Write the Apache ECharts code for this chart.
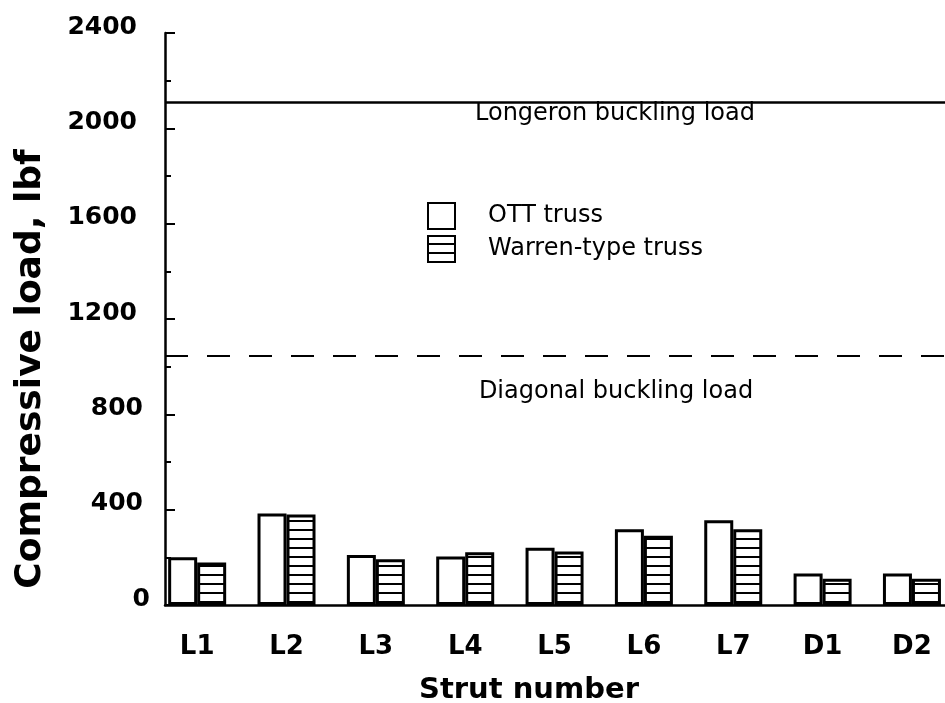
<!DOCTYPE html>
<html>
<head>
<meta charset="utf-8">
<script src="https://cdn.jsdelivr.net/npm/echarts@6/dist/echarts.min.js"></script>
<style>
  html, body { margin: 0; padding: 0; background: #fff; }
  #chart { width: 945px; height: 703px; }
</style>
</head>
<body>
<div id="chart"></div>
<script>
// Strut categories and measured compressive loads (lbf)
const struts = ['L1', 'L2', 'L3', 'L4', 'L5', 'L6', 'L7', 'D1', 'D2'];
const ottTruss = [200, 384, 210, 203, 240, 318, 356, 132, 132];
const warrenTruss = [178, 380, 192, 221, 224, 291, 318, 110, 110];

// Reference buckling loads (lbf)
const longeronBuckling = 2110;
const diagonalBuckling = 1045;

// Y-axis tick values
const yTicks = [0, 400, 800, 1200, 1600, 2000, 2400];

const FONT = 'DejaVu Sans';

// Horizontal hatching used for the Warren-type truss bars
function makeHatch() {
  const c = document.createElement('canvas');
  c.width = 8;
  c.height = 9;
  const g = c.getContext('2d');
  g.fillStyle = '#fff';
  g.fillRect(0, 0, 8, 9);
  g.fillStyle = '#000';
  g.fillRect(0, 7, 8, 2);
  return c;
}
const hatch = { image: makeHatch(), repeat: 'repeat' };

const chart = echarts.init(document.getElementById('chart'), null, { renderer: 'canvas' });

function yLabel(v) {
  const s = String(v);
  const key = s.length >= 4 ? 'w4' : (s.length === 3 ? 'w3' : 'w1');
  return '{' + key + '|' + s + '}';
}
const yRichBase = { fontFamily: FONT, fontWeight: 'bold', fontSize: 25, color: '#000' };

chart.setOption({
  animation: false,
  backgroundColor: '#fff',
  grid: { left: 165, right: 0, top: 33, bottom: 98, outerBoundsMode: 'none', containLabel: false },
  legend: {
    orient: 'vertical',
    left: 422,
    top: 197,
    icon: 'rect',
    itemWidth: 27,
    itemHeight: 26,
    itemGap: 5,
    textStyle: {
      fontFamily: FONT,
      fontSize: 24,
      color: '#000',
      padding: [0, 0, 9, 28]
    },
    data: ['OTT truss', 'Warren-type truss']
  },
  xAxis: {
    type: 'value',
    min: -0.36,
    max: 8.37,
    name: 'Strut number',
    nameLocation: 'middle',
    nameGap: 71,
    nameTextStyle: {
      fontFamily: FONT,
      fontWeight: 'bold',
      fontSize: 29,
      color: '#000',
      padding: [0, 52, 0, 0]
    },
    axisLine: { show: true, onZero: false, lineStyle: { color: '#000', width: 2.5 } },
    axisTick: { show: false },
    splitLine: { show: false },
    axisLabel: {
      customValues: struts.map((s, i) => i),
      formatter: v => struts[Math.round(v)] ?? '',
      margin: 29,
      fontFamily: FONT,
      fontWeight: 'bold',
      fontSize: 26,
      color: '#000'
    }
  },
  yAxis: {
    type: 'value',
    min: 0,
    max: 2400,
    interval: 400,
    name: 'Compressive load, lbf',
    nameLocation: 'middle',
    nameRotate: 90,
    nameGap: 116,
    nameTextStyle: {
      fontFamily: FONT,
      fontWeight: 'bold',
      fontSize: 36,
      color: '#000',
      padding: [0, 100, 0, 0]
    },
    axisLine: { show: true, onZero: false, lineStyle: { color: '#000', width: 2.5 } },
    axisTick: { show: true, inside: true, length: 10, lineStyle: { color: '#000', width: 2 } },
    minorTick: { show: true, splitNumber: 2, length: 6, lineStyle: { color: '#000', width: 2 } },
    splitLine: { show: false },
    axisLabel: {
      customValues: yTicks,
      margin: 15,
      formatter: yLabel,
      rich: {
        w4: Object.assign({ padding: [0, 13, 12, 0] }, yRichBase),
        w3: Object.assign({ padding: [0, 7, 12, 0] }, yRichBase),
        w1: Object.assign({ padding: [0, 0, 12, 0] }, yRichBase)
      }
    }
  },
  series: [
    {
      name: 'OTT truss',
      type: 'bar',
      barWidth: 29,
      barGap: '0%',
      data: ottTruss.map((v, i) => [i, v]),
      itemStyle: { color: '#fff', borderColor: '#000', borderWidth: 3 },
      markLine: {
        silent: true,
        symbol: ['none', 'none'],
        data: [
          {
            yAxis: longeronBuckling,
            lineStyle: { color: '#000', width: 2.5, type: 'solid' },
            label: {
              show: true,
              position: 'insideMiddleBottom',
              distance: 0,
              formatter: 'Longeron buckling load',
              fontFamily: FONT,
              fontSize: 24,
              color: '#000',
              padding: [0, 0, 0, 120]
            }
          },
          {
            yAxis: diagonalBuckling,
            lineStyle: { color: '#000', width: 2, type: [23, 19] },
            label: {
              show: true,
              position: 'insideMiddleBottom',
              distance: 24,
              formatter: 'Diagonal buckling load',
              fontFamily: FONT,
              fontSize: 24,
              color: '#000',
              padding: [0, 0, 0, 122]
            }
          }
        ]
      }
    },
    {
      name: 'Warren-type truss',
      type: 'bar',
      barWidth: 29,
      barGap: '0%',
      data: warrenTruss.map((v, i) => [i, v]),
      itemStyle: { color: hatch, borderColor: '#000', borderWidth: 3 }
    }
  ]
});
</script>
</body>
</html>
